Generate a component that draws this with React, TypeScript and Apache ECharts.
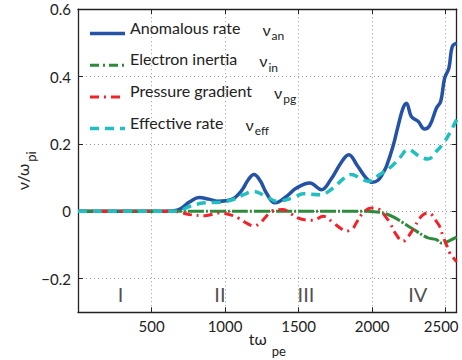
import React, { useEffect, useRef } from 'react';
import * as echarts from 'echarts';

// t (ω_pe^-1) , ν/ω_pi
const anomalousRate: [number, number][] = [
  [0, 0], [600, 0], [680, 0.004], [760, 0.028], [824, 0.041], [890, 0.036], [951, 0.030],
  [1044, 0.035], [1110, 0.06], [1160, 0.095], [1196, 0.109], [1240, 0.09], [1280, 0.055],
  [1340, 0.025], [1420, 0.045], [1486, 0.069], [1576, 0.084], [1655, 0.064], [1720, 0.095],
  [1790, 0.145], [1841, 0.168], [1900, 0.135], [1960, 0.098], [2000, 0.086], [2040, 0.092],
  [2074, 0.114], [2097, 0.133], [2142, 0.193], [2176, 0.252], [2210, 0.306], [2233, 0.321],
  [2267, 0.281], [2312, 0.267], [2357, 0.244], [2391, 0.254], [2437, 0.306], [2466, 0.326],
  [2493, 0.395], [2522, 0.425], [2545, 0.489], [2575, 0.499],
];
const electronInertia: [number, number][] = [
  [0, 0], [1950, 0], [2050, -0.003], [2097, -0.008], [2150, -0.018], [2210, -0.034],
  [2260, -0.048], [2301, -0.059], [2340, -0.07], [2380, -0.079], [2437, -0.084],
  [2471, -0.094], [2500, -0.092], [2527, -0.087], [2575, -0.077],
];
const pressureGradient: [number, number][] = [
  [0, 0], [640, 0], [700, -0.004], [761, -0.010], [863, -0.013], [965, -0.005], [1030, -0.01],
  [1089, -0.020], [1150, -0.036], [1196, -0.044], [1240, -0.034], [1270, -0.020], [1316, 0],
  [1395, 0.005], [1450, -0.008], [1497, -0.020], [1550, -0.026], [1599, -0.027], [1667, -0.015],
  [1735, -0.034], [1790, -0.052], [1825, -0.059], [1870, -0.05], [1893, -0.034], [1938, -0.005],
  [1995, 0.010], [2052, 0.005], [2090, -0.015], [2120, -0.034], [2165, -0.07], [2210, -0.089],
  [2245, -0.075], [2278, -0.054], [2335, -0.015], [2380, -0.005], [2410, -0.012], [2437, -0.030],
  [2459, -0.045], [2482, -0.074], [2510, -0.105], [2527, -0.123], [2561, -0.143], [2575, -0.15],
];
const effectiveRate: [number, number][] = [
  [0, 0], [650, 0], [700, 0.003], [761, 0.015], [863, 0.025], [965, 0.027], [1055, 0.035],
  [1130, 0.05], [1191, 0.059], [1282, 0.043], [1350, 0.030], [1463, 0.040], [1531, 0.052],
  [1644, 0.049], [1735, 0.069], [1800, 0.095], [1859, 0.109], [1920, 0.098], [1972, 0.089],
  [2052, 0.109], [2131, 0.133], [2190, 0.16], [2244, 0.183], [2323, 0.163], [2380, 0.155],
  [2437, 0.178], [2493, 0.207], [2527, 0.232], [2575, 0.272],
];

const seriesNames = ['Anomalous rate', 'Electron inertia', 'Pressure gradient', 'Effective rate'];
const seriesSubs = ['an', 'in', 'pg', 'eff'];
const xTicks = [500, 1000, 1500, 2000, 2500];
const yTicks = [-0.2, 0, 0.2, 0.4, 0.6];
const regionLabels = ['I', 'II', 'III', 'IV'];
const regionX = [290, 965, 1550, 2310];
const regionY = -0.247;

const FONT = 'Lato';
const INK = '#222222';

// visual styles per series (not data)
const seriesColors = ['#2452a6', '#2e8a3c', '#f2222a', '#21bfbf'];
const seriesWidths = [3.5, 3, 3, 3.5];
const seriesDash: (number[] | null)[] = [null, [16, 2, 2, 2], [9, 5, 2, 5], [9, 6]];
const legendDash: (number[] | null)[] = [null, [9, 4, 2, 4], [9, 5, 2, 5], [9, 6]];

export default function App() {
  const ref = useRef<HTMLDivElement>(null);
  useEffect(() => {
    const chart = echarts.init(ref.current!, null, { renderer: 'svg' });
    const axisLine = { show: true, onZero: false, lineStyle: { color: INK, width: 1.3 } };
    const gridLine = { show: true, lineStyle: { color: '#9a9a9a', width: 1, type: [1, 3] } };
    const fmtY = (v: number) => (v < 0 ? '\u2212' + Math.abs(v) : String(v));
    const fmtX = (v: number) => (v === 2500 ? '{r|' + v + '}' : String(v));
    const dataSets = [anomalousRate, electronInertia, pressureGradient, effectiveRate];
    const mkLine = (i: number) => ({
      name: seriesNames[i],
      type: 'line',
      data: dataSets[i],
      smooth: 0.4,
      symbol: 'none',
      showSymbol: false,
      lineStyle: { color: seriesColors[i], width: seriesWidths[i], type: seriesDash[i] || 'solid' },
      itemStyle: { color: seriesColors[i] },
    });

    // legend drawn as graphic elements (MATLAB-style, no box)
    const legendLeft = 90;
    const legendIconY = [33.5, 65.2, 96.9, 128.6];
    const legendGraphic: any[] = [];
    seriesNames.forEach((n, i) => {
      legendGraphic.push({
        type: 'line',
        silent: true,
        shape: { x1: legendLeft, y1: legendIconY[i], x2: legendLeft + 35, y2: legendIconY[i] },
        style: { stroke: seriesColors[i], lineWidth: seriesWidths[i], lineDash: legendDash[i] || undefined },
      });
      legendGraphic.push({
        type: 'text',
        silent: true,
        x: legendLeft + 40,
        y: legendIconY[i],
        style: {
          text: `{m|${n}}{g|\u03bd}{s|${seriesSubs[i]}}`,
          verticalAlign: 'middle',
          align: 'left',
          rich: {
            m: { fontSize: 16, fontFamily: FONT, fill: INK, padding: [0, 0, 13, 0] },
            g: { fontSize: 16, fontFamily: FONT, fill: INK, padding: [0, 0, 9, 22] },
            s: { fontSize: 12, fontFamily: FONT, fill: INK, padding: [4, 0, 0, 1] },
          },
        },
      });
    });

    chart.setOption({
      animation: false,
      grid: { left: 78, right: 5.3, top: 9.2, bottom: 47.7, outerBoundsMode: 'none' },
      xAxis: [
        {
          type: 'value', min: 0, max: 2575, position: 'bottom',
          axisLine,
          axisTick: { show: true, inside: true, length: 5, customValues: xTicks, lineStyle: { color: INK } },
          axisLabel: {
            customValues: xTicks, fontSize: 15, fontFamily: FONT, color: INK, margin: 6, formatter: fmtX,
            rich: { r: { fontSize: 15, fontFamily: FONT, color: INK, padding: [0, 9, 0, 0] } },
          },
          splitLine: gridLine,
          name: '{a|t\u03c9}{s|pe}',
          nameLocation: 'middle',
          nameGap: 18,
          nameMoveOverlap: false,
          nameTextStyle: {
            rich: {
              a: { fontSize: 16, fontFamily: FONT, color: INK, lineHeight: 20, verticalAlign: 'top' },
              s: { fontSize: 13, fontFamily: FONT, color: INK, lineHeight: 14, verticalAlign: 'top', padding: [14, 0, 0, 5] },
            },
          },
        },
        {
          type: 'value', min: 0, max: 2575, position: 'top',
          axisLine,
          axisTick: { show: true, inside: true, length: 5, customValues: xTicks, lineStyle: { color: INK } },
          axisLabel: { show: false },
          splitLine: { show: false },
        },
      ],
      yAxis: [
        {
          type: 'value', min: -0.3, max: 0.6, position: 'left',
          axisLine,
          axisTick: { show: true, inside: true, length: 5, customValues: yTicks, lineStyle: { color: INK } },
          axisLabel: { customValues: yTicks, fontSize: 15, fontFamily: FONT, color: INK, margin: 7, formatter: fmtY },
          splitLine: gridLine,
          name: '{a|\u03bd/\u03c9}{s|pi}',
          nameLocation: 'middle',
          nameRotate: 90,
          nameGap: 44,
          nameMoveOverlap: false,
          nameTextStyle: {
            rich: {
              a: { fontSize: 16, fontFamily: FONT, color: INK, lineHeight: 20, verticalAlign: 'top' },
              s: { fontSize: 13, fontFamily: FONT, color: INK, lineHeight: 14, verticalAlign: 'top', padding: [10, 20, 0, 2] },
            },
          },
        },
        {
          type: 'value', min: -0.3, max: 0.6, position: 'right',
          axisLine,
          axisTick: { show: true, inside: true, length: 5, customValues: yTicks, lineStyle: { color: INK } },
          axisLabel: { show: false },
          splitLine: { show: false },
        },
      ],
      graphic: legendGraphic,
      series: [
        mkLine(0),
        mkLine(1),
        mkLine(2),
        mkLine(3),
        {
          name: 'regions',
          type: 'scatter',
          symbolSize: 0,
          data: regionX.map((x, i) => ({ name: regionLabels[i], value: [x, regionY] })),
          label: {
            show: true,
            position: 'inside',
            formatter: (p: any) => p.name,
            fontSize: 20,
            fontFamily: FONT,
            color: INK,
          },
          silent: true,
        },
      ],
    });
    return () => chart.dispose();
  }, []);
  return <div ref={ref} style={{ width: 462, height: 360, position: 'absolute', left: 0, top: 0 }} />;
}
